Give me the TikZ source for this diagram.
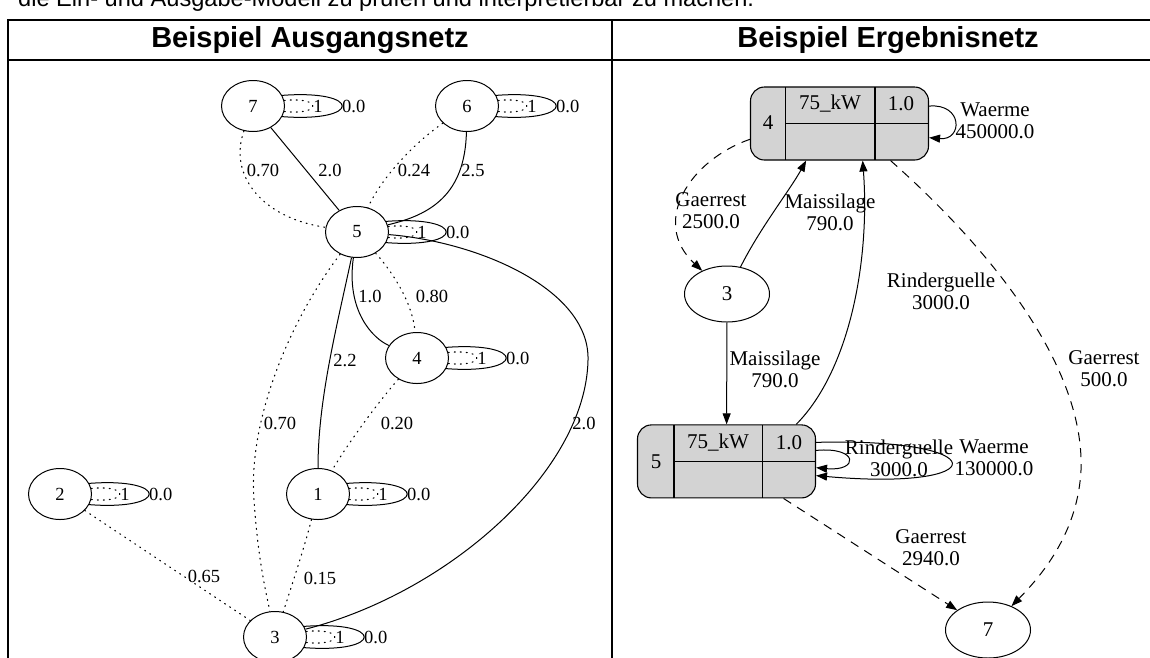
\documentclass[tikz,border=0pt]{standalone}
\usepackage{fontspec}
\setmainfont{Liberation Serif}
\newfontfamily\arialfont{Liberation Sans}
\usetikzlibrary{arrows.meta,calc,shapes.geometric}
\definecolor{recgray}{HTML}{D3D3D3}
\newcommand\lloops[1]{%
  \draw[sl] (#1.20) .. controls +(80,-6) and +(80,6) .. (#1.-20);
  \draw[dl] (#1.10) .. controls +(38,-4) and +(38,4) .. (#1.-10);
  \node[lbl] (#1one) at ([shift={(65,0)}]#1.center) {1};
  \node[lbl,anchor=west] (#1zero) at ([shift={(89,0)}]#1.center) {0.0};
}
\begin{document}
\begin{tikzpicture}[x=1pt,y=-1pt,
  lnode/.style={draw,ellipse,minimum width=63pt,minimum height=51pt,inner sep=0pt,line width=1pt,font=\fontsize{18.5}{20}\selectfont},
  rnode/.style={draw,ellipse,minimum width=85pt,minimum height=56pt,inner sep=0pt,line width=1pt,font=\fontsize{21}{22}\selectfont},
  rec/.style={draw,rounded corners=14pt,fill=recgray,minimum width=178pt,minimum height=73pt,inner sep=0pt,line width=1.1pt},
  lbl/.style={font=\fontsize{18.5}{20}\selectfont,inner sep=0pt},
  rlbl/.style={font=\fontsize{21}{22}\selectfont,inner sep=0pt,align=center},
  sl/.style={line width=1pt},
  dl/.style={line width=1.1pt,dash pattern=on 1pt off 5pt,line cap=round},
  arr/.style={-{Triangle[length=11pt,width=8pt]}},
  rs/.style={line width=1pt,arr},
  rd/.style={line width=1pt,dash pattern=on 9pt off 7pt,arr},
  grid/.style={line width=2pt},
  cell/.style={line width=1.1pt}
]
\useasboundingbox (0,0) rectangle (1150,657);
\clip (0,0) rectangle (1150,657);
\fill[white] (0,0) rectangle (1150,657);

% intro text line (cut off at top)
\node[anchor=base west,inner sep=0pt,font=\arialfont\fontsize{23.6}{26}\selectfont] (intro) at (18,6) {die Ein- und Ausgabe-Modell zu prüfen und interpretierbar zu machen.};

% table
\draw[grid] (8,20) -- (1160,20);
\draw[grid] (8,60) -- (1160,60);
\draw[grid] (8,19) -- (8,670);
\draw[grid] (612,19) -- (612,670);
\node[font=\arialfont\bfseries\fontsize{29}{32}\selectfont,inner sep=0pt] (h1) at (310,40) {Beispiel Ausgangsnetz};
\node[font=\arialfont\bfseries\fontsize{29}{32}\selectfont,inner sep=0pt] (h2) at (888,40) {Beispiel Ergebnisnetz};

% ---------- left graph ----------
\node[lnode] (n7) at (253,106) {7};
\node[lnode] (n6) at (467,106) {6};
\node[lnode] (n5) at (357,232) {5};
\node[lnode] (n4) at (417,358) {4};
\node[lnode] (n1) at (318,494) {1};
\node[lnode] (n2) at (60,494) {2};
\node[lnode] (n3) at (275,637) {3};

\lloops{n7}\lloops{n6}\lloops{n5}\lloops{n4}\lloops{n1}\lloops{n2}\lloops{n3}

\draw[sl] (n7) -- (n5);
\node[lbl] (l75s) at (330,170) {2.0};
\draw[dl] (n7) .. controls (228,175) and (262,218) .. (n5);
\node[lbl] (l75d) at (263,170) {0.70};
\draw[dl] (n6) .. controls (405,150) and (378,185) .. (n5);
\node[lbl] (l65d) at (414,170) {0.24};
\draw[sl] (n6) .. controls (465,195) and (430,215) .. (n5);
\node[lbl] (l65s) at (473,170) {2.5};
\draw[sl] (n5) .. controls (480,242) and (590,290) .. (588,360) .. controls (586,470) and (450,592) .. (n3);
\node[lbl] (l53s) at (584,423) {2.0};
\draw[sl] (n5) .. controls (346,310) and (372,338) .. (n4);
\node[lbl] (l54s) at (370,296) {1.0};
\draw[dl] (n5) .. controls (395,275) and (413,305) .. (n4);
\node[lbl] (l54d) at (432,296) {0.80};
\draw[sl] (n5) .. controls (336,330) and (318,400) .. (n1);
\node[lbl] (l51s) at (345,360) {2.2};
\draw[dl] (n5) .. controls (290,320) and (248,420) .. (254,500) .. controls (258,560) and (266,592) .. (n3);
\node[lbl] (l53d) at (280,423) {0.70};
\draw[dl] (n4) .. controls (380,400) and (350,440) .. (n1);
\node[lbl] (l41d) at (397,423) {0.20};
\draw[dl] (n1) .. controls (305,545) and (292,585) .. (n3);
\node[lbl] (l13d) at (320,578) {0.15};
\draw[dl] (n2) -- (n3);
\node[lbl] (l23d) at (204,576) {0.65};

% ---------- right graph ----------
\node[rec] (r4) at (839.5,123.5) {};
\draw[cell] (785.6,87) -- (785.6,160);
\draw[cell] (875,87) -- (875,160);
\draw[cell] (785.6,123.4) -- (928.5,123.4);
\node[rlbl] (r4a) at (768,123) {4};
\node[rlbl] (r4b) at (830,104) {75\_kW};
\node[rlbl] (r4c) at (901,104) {1.0};

\node[rec] (r5) at (726.5,461.4) {};
\draw[cell] (674,425) -- (674,498);
\draw[cell] (762.7,425) -- (762.7,498);
\draw[cell] (674,461.6) -- (815.5,461.6);
\node[rlbl] (r5a) at (656,462) {5};
\node[rlbl] (r5b) at (718,443) {75\_kW};
\node[rlbl] (r5c) at (789,443) {1.0};

\node[rnode] (r3) at (727,294) {3};
\node[rnode] (r7) at (988,630) {7};

\draw[rd] (r4.190) .. controls (690,160) and (650,222) .. (r3);
\node[rlbl] (e43) at (711,211) {Gaerrest\\2500.0};
\draw[rs] (r3) .. controls (760,228) and (790,190) .. (r4.228);
\node[rlbl] (e34) at (830,212) {Maissilage\\790.0};
\draw[rs] (r5.28) .. controls (850,370) and (870,260) .. (r4.-58);
\node[rlbl] (e54) at (941,291) {Rinderguelle\\3000.0};
\draw[rd] (r4.-36) .. controls (980,240) and (1085,360) .. (1081,470) .. controls (1078,530) and (1045,572) .. (r7);
\node[rlbl] (e47) at (1104,369) {Gaerrest\\500.0};
\draw[rs] (r3) -- (r5);
\node[rlbl] (e35) at (775,369) {Maissilage\\790.0};
\draw[rd] (r5.-33) -- (r7);
\node[rlbl] (e57) at (931,548) {Gaerrest\\2940.0};

\draw[rs] (r4.11) .. controls +(34,-3) and +(34,3) .. (r4.-9);
\node[rlbl] (e44) at (995,121) {Waerme\\450000.0};
\draw[rs] (r5.7) .. controls +(43,-4) and +(43,4) .. (r5.-4);
\node[rlbl] (e55a) at (899,458) {Rinderguelle\\3000.0};
\draw[rs] (r5.12) .. controls +(180,-5) and +(180,16) .. (r5.-9);
\node[rlbl] (e55b) at (994,458) {Waerme\\130000.0};
\end{tikzpicture}
\end{document}
